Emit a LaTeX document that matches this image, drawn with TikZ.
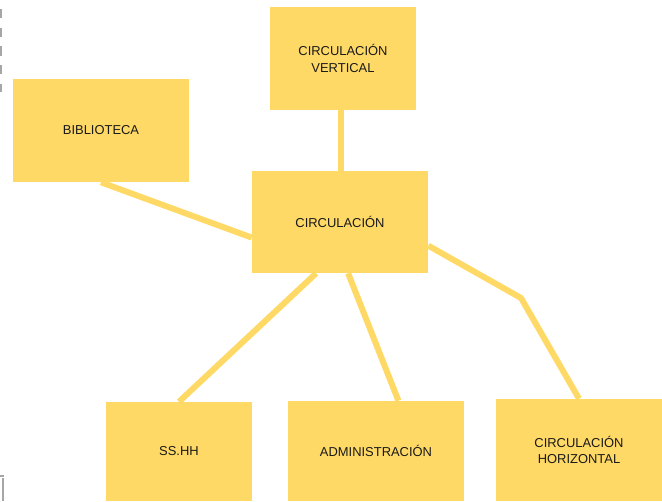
\documentclass[tikz,border=0pt]{standalone}
\usepackage{fontspec}
\setmainfont{Liberation Sans}
\definecolor{boxyellow}{RGB}{255,217,102}
\definecolor{txtgray}{RGB}{25,25,25}
\begin{document}
\begin{tikzpicture}[x=0.025cm,y=-0.025cm,
    area/.style={fill=boxyellow, text=txtgray, inner sep=0pt, align=center,
        font=\fontsize{9.2}{11.7}\selectfont},
    link/.style={draw=boxyellow, line width=0.15cm},
    edge mark/.style={draw=gray!70, line width=0.035cm}]
                    % Page frame
                    \useasboundingbox (0,0) rectangle (662,501);
                    \draw[edge mark, dash pattern=on 0.23cm off 0.235cm] (1,-9.5) -- (1,92);
                    \draw[edge mark] (0,476) -- (4,476);
                    \draw[edge mark] (3,478) -- (3,501);

                    % Boxes
                    \node[area, minimum width=3.65cm, minimum height=2.575cm] (vert) at (343,58.5) {CIRCULACIÓN\\VERTICAL};
                    \node[area, minimum width=4.4cm, minimum height=2.575cm] (biblio) at (101,130.5) {BIBLIOTECA};
                    \node[area, minimum width=4.4cm, minimum height=2.55cm] (circ) at (340,222) {CIRCULACIÓN};
                    \node[area, minimum width=3.65cm, minimum height=2.475cm] (sshh) at (179,451.5) {SS.HH};
                    \node[area, minimum width=4.4cm, minimum height=2.5cm] (admin) at (376,451) {ADMINISTRACIÓN};
                    \node[area, minimum width=4.15cm, minimum height=2.55cm] (horiz) at (579,450) {CIRCULACIÓN\\HORIZONTAL};

                    % Links
                    \coordinate (bend) at (521,298);
                    \draw[link] ([xshift=-0.05cm]vert.south) -- ([xshift=-0.05cm]vert.south |- circ.north);
                    \draw[link] (biblio.south) -- (circ.190);
                    \draw[link] (circ.245) -- (sshh.north);
                    \draw[link] (circ.279) -- (admin.66);
                    \draw[link] (circ.345) -- (bend) -- (horiz.north);
\end{tikzpicture}
\end{document}
